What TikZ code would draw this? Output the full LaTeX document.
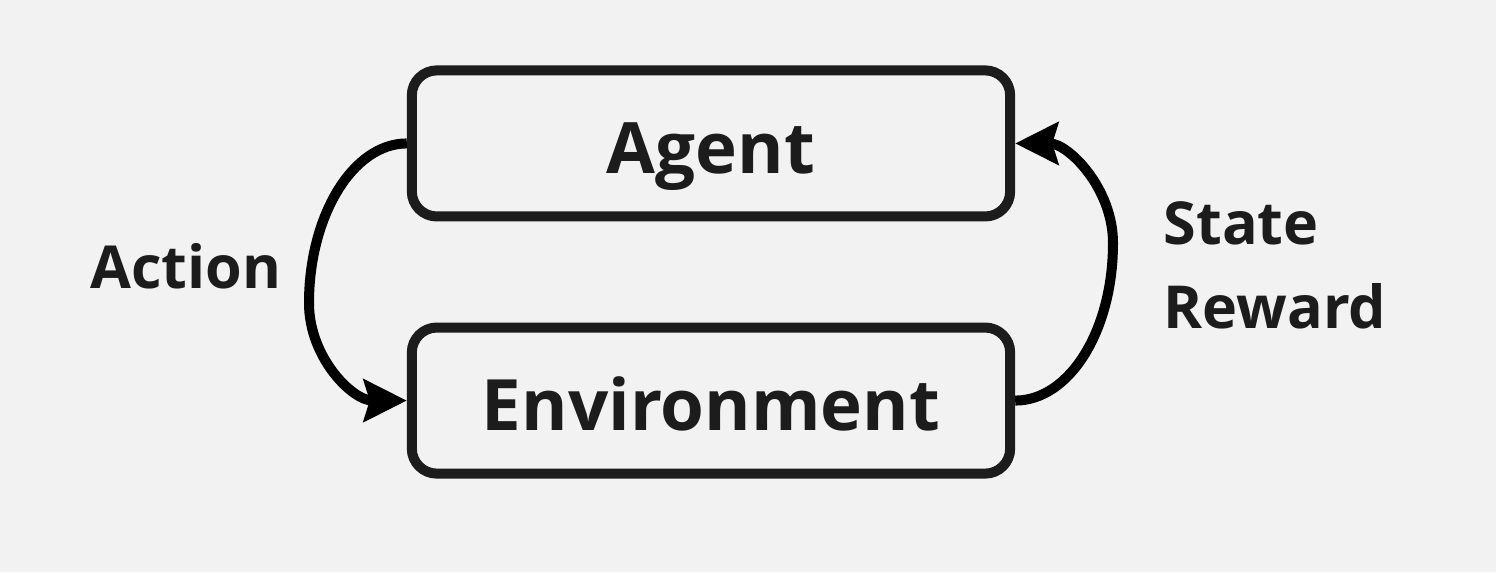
\documentclass[tikz,border=0pt]{standalone}
\usepackage{fontspec}
\setmainfont{Open Sans}
\usetikzlibrary{matrix,arrows.meta}

\definecolor{canvas}{HTML}{F2F2F2}
\definecolor{ink}{HTML}{1C1C1C}

\tikzset{
    block/.style={draw=ink, line width=0.1cm, rounded corners=0.25cm,
        minimum width=5.98cm, minimum height=1.46cm, inner sep=0pt,
        text height=16.9pt, text depth=0pt,
        text=ink, font=\fontsize{20.15}{25}\selectfont\bfseries},
    feedback/.style={draw=black, line width=0.1cm,
        -{Stealth[length=0.43cm, width=0.42cm, inset=0.06cm]}},
    tag/.style={inner sep=0pt, text=ink, font=\fontsize{16.85}{23.9}\selectfont\bfseries}
}

\begin{document}
\begin{tikzpicture}[x=0.01cm, y=-0.01cm]
            \fill[canvas] (0,0) rectangle (1496,572);
            \useasboundingbox (0,0) rectangle (1496,572);
            \matrix (loop) [matrix of nodes, nodes={block}, row sep=1.01cm] at (711,272) {
                Agent \\
                Environment \\
            };
            \coordinate (actturn) at (309,303);
            \coordinate (obsturn) at (1113,243);
            \draw[feedback] (loop-1-1.west) .. controls +(-54,0) and +(0,-87) .. (actturn)
                .. controls +(0,55) and +(-54,0) .. (loop-2-1.west);
            \draw[feedback] (loop-2-1.east) .. controls +(54,0) and +(0,88) .. (obsturn)
                .. controls +(0,-55) and +(53,0) .. (loop-1-1.east);
            \node[tag, anchor=east] (action) at (282,266) {Action};
            \node[tag, anchor=north west, align=left] (obs) at (1163,201) {State\\Reward};
        \end{tikzpicture}
\end{document}
